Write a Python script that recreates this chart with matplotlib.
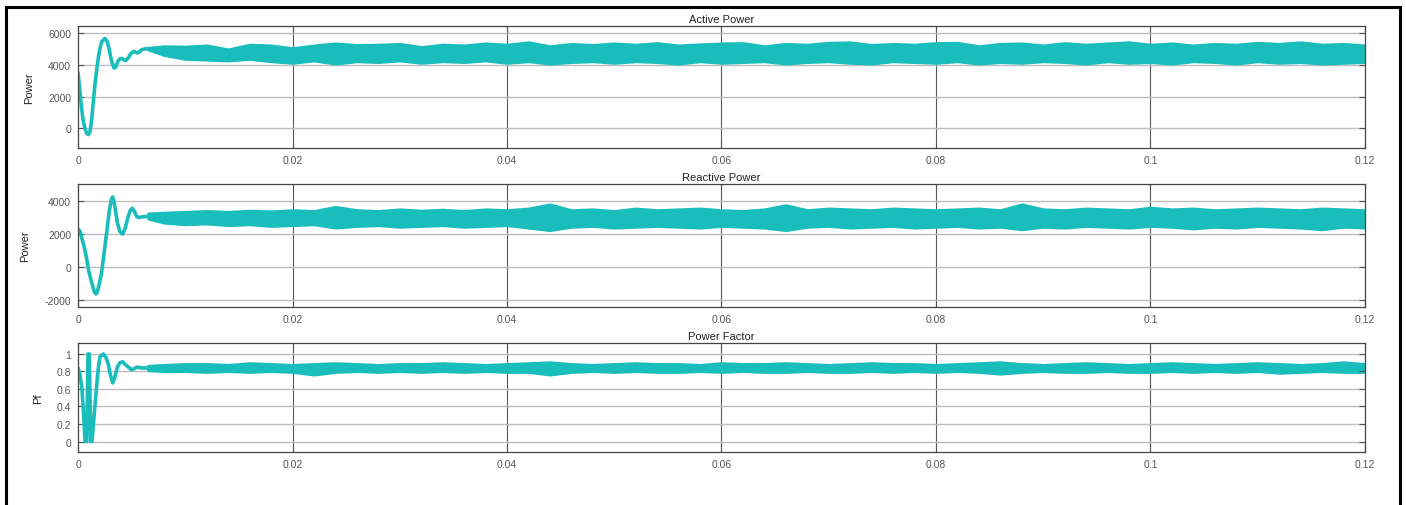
import matplotlib
matplotlib.use("Agg")
import matplotlib.pyplot as plt
from matplotlib.patches import Rectangle

plt.rcParams['font.family'] = ['Liberation Sans', 'DejaVu Sans']

# ---- data ----
x_ticks = [0, 0.02, 0.04, 0.06, 0.08, 0.1, 0.12]
x_labels = ["0", "0.02", "0.04", "0.06", "0.08", "0.1", "0.12"]

# start-up transients (thick line)
p_t = [0, 0.00017, 0.00034, 0.0005, 0.00065, 0.0008, 0.00096, 0.0011, 0.00125,
       0.0014, 0.0016, 0.0018, 0.002, 0.0022, 0.0025, 0.0027, 0.0029, 0.0031,
       0.00335, 0.0035, 0.0037, 0.0039, 0.0041, 0.0043, 0.00447, 0.0047, 0.0049,
       0.0052, 0.0055, 0.0057, 0.0059, 0.0062, 0.0065]
p_v = [3500, 2400, 1190, 400, 0, -330, -400, -250, 400,
       1500, 2900, 4000, 4900, 5450, 5670, 5500, 5000, 4300,
       3800, 3850, 4200, 4380, 4400, 4300, 4280, 4450, 4700,
       4850, 4750, 4800, 4940, 5000, 5030]

q_t = [0, 0.0002, 0.00034, 0.0006, 0.00081, 0.001, 0.00127, 0.0015, 0.00168,
       0.0018, 0.002, 0.0022, 0.0024, 0.00267, 0.0029, 0.0031, 0.00323, 0.0034,
       0.00366, 0.0039, 0.00416, 0.0044, 0.00469, 0.0049, 0.00506, 0.0053,
       0.00547, 0.0057, 0.0059, 0.0065]
q_v = [2280, 2150, 1780, 1150, 480, -250, -920, -1450, -1620,
       -1500, -950, -320, 700, 2080, 3300, 4050, 4220, 3800,
       2680, 2150, 1980, 2350, 3080, 3450, 3540, 3300,
       3040, 2980, 3020, 3050]

pf_t = [0, 0.00015, 0.00034, 0.0005, 0.00065, 0.00081, 0.00093, 0.00105, 0.00118,
        0.0013, 0.0015, 0.00174, 0.0019, 0.00205, 0.00236, 0.0026, 0.00283, 0.003,
        0.00323, 0.0034, 0.00366, 0.0039, 0.00416, 0.0044, 0.00469, 0.005, 0.0052,
        0.00547, 0.006, 0.0065]
pf_v = [0.84, 0.78, 0.64, 0.35, 0.0, 0.0, 1.0, 1.0, 0.0,
        0.0, 0.3, 0.64, 0.85, 0.97, 1.0, 0.96, 0.88, 0.77,
        0.67, 0.72, 0.85, 0.9, 0.91, 0.88, 0.85, 0.82, 0.83,
        0.85, 0.84, 0.84]

# steady-state ripple band (upper / lower envelope)
band_t = [0.0065, 0.008, 0.010, 0.012, 0.014, 0.016, 0.018, 0.020, 0.022, 0.024,
          0.026, 0.028, 0.030, 0.032, 0.034, 0.036, 0.038, 0.040, 0.042, 0.044,
          0.046, 0.048, 0.050, 0.052, 0.054, 0.056, 0.058, 0.060, 0.062, 0.064,
          0.066, 0.068, 0.070, 0.072, 0.074, 0.076, 0.078, 0.080, 0.082, 0.084,
          0.086, 0.088, 0.090, 0.092, 0.094, 0.096, 0.098, 0.100, 0.102, 0.104,
          0.106, 0.108, 0.110, 0.112, 0.114, 0.116, 0.118, 0.120]

p_hi = [5100, 5200, 5180, 5250, 5000, 5300, 5250, 5080, 5250, 5380,
        5280, 5300, 5350, 5150, 5300, 5250, 5380, 5300, 5450, 5200,
        5350, 5280, 5380, 5300, 5400, 5250, 5320, 5380, 5400, 5200,
        5350, 5300, 5420, 5450, 5280, 5350, 5300, 5400, 5420, 5200,
        5350, 5380, 5250, 5400, 5300, 5380, 5450, 5300, 5380, 5250,
        5350, 5300, 5420, 5350, 5450, 5300, 5350, 5250]
p_lo = [4950, 4600, 4350, 4300, 4250, 4350, 4200, 4100, 4250, 4050,
        4200, 4150, 4250, 4100, 4200, 4150, 4250, 4100, 4200, 4050,
        4150, 4200, 4100, 4200, 4150, 4050, 4200, 4100, 4150, 4200,
        4050, 4150, 4200, 4100, 4050, 4200, 4150, 4100, 4200, 4050,
        4150, 4100, 4200, 4150, 4050, 4200, 4100, 4150, 4050, 4200,
        4150, 4050, 4200, 4100, 4150, 4050, 4100, 4150]

q_hi = [3250, 3300, 3350, 3400, 3350, 3420, 3380, 3450, 3400, 3650,
        3450, 3400, 3500, 3420, 3480, 3400, 3500, 3450, 3550, 3800,
        3450, 3500, 3400, 3550, 3450, 3500, 3550, 3450, 3400, 3500,
        3750, 3450, 3550, 3500, 3450, 3550, 3500, 3450, 3500, 3550,
        3450, 3800, 3500, 3450, 3550, 3500, 3450, 3600, 3500, 3550,
        3450, 3500, 3550, 3500, 3450, 3550, 3500, 3450]
q_lo = [2900, 2650, 2550, 2600, 2500, 2550, 2450, 2500, 2550, 2350,
        2450, 2500, 2400, 2450, 2500, 2400, 2450, 2500, 2350, 2200,
        2400, 2450, 2350, 2400, 2450, 2400, 2350, 2450, 2400, 2350,
        2200, 2400, 2450, 2350, 2400, 2450, 2350, 2400, 2450, 2350,
        2400, 2250, 2400, 2350, 2450, 2400, 2350, 2450, 2400, 2300,
        2400, 2350, 2450, 2400, 2350, 2250, 2400, 2350]

pf_hi = [0.87, 0.88, 0.89, 0.89, 0.88, 0.90, 0.89, 0.88, 0.89, 0.90,
         0.89, 0.88, 0.89, 0.89, 0.90, 0.89, 0.88, 0.89, 0.90, 0.91,
         0.89, 0.88, 0.89, 0.90, 0.89, 0.89, 0.88, 0.90, 0.89, 0.89,
         0.90, 0.89, 0.88, 0.89, 0.90, 0.89, 0.89, 0.88, 0.89, 0.90,
         0.91, 0.89, 0.88, 0.89, 0.90, 0.89, 0.88, 0.89, 0.90, 0.89,
         0.88, 0.89, 0.90, 0.89, 0.88, 0.89, 0.91, 0.89]
pf_lo = [0.81, 0.80, 0.80, 0.79, 0.80, 0.79, 0.80, 0.79, 0.76, 0.79,
         0.80, 0.79, 0.80, 0.79, 0.80, 0.79, 0.80, 0.79, 0.79, 0.76,
         0.79, 0.80, 0.79, 0.80, 0.79, 0.79, 0.80, 0.79, 0.80, 0.79,
         0.79, 0.80, 0.79, 0.79, 0.80, 0.79, 0.80, 0.79, 0.80, 0.79,
         0.77, 0.79, 0.80, 0.79, 0.79, 0.80, 0.79, 0.79, 0.80, 0.79,
         0.80, 0.79, 0.80, 0.78, 0.79, 0.80, 0.79, 0.79]

# ---- figure ----
teal = '#19bdbb'
fig = plt.figure(figsize=(14.06, 5.06), dpi=100)

panels = [
    # rect, title, ylabel, yticks, ylim, transient t, transient v, hi, lo, label x
    ([0.0555, 0.7055, 0.9153, 0.2411], "Active Power", "Power",
     [0, 2000, 4000, 6000], (-1250, 6450), p_t, p_v, p_hi, p_lo, -0.034),
    ([0.0555, 0.3913, 0.9153, 0.2431], "Reactive Power", "Power",
     [-2000, 0, 2000, 4000], (-2400, 5000), q_t, q_v, q_hi, q_lo, -0.037),
    ([0.0555, 0.1047, 0.9153, 0.2154], "Power Factor", "Pf",
     [0, 0.2, 0.4, 0.6, 0.8, 1], (-0.12, 1.125), pf_t, pf_v, pf_hi, pf_lo, -0.027),
]

for rect, title, ylab, yt, ylim, tt, tv, hi, lo, labx in panels:
    ax = fig.add_axes(rect)
    ax.plot(tt, tv, color=teal, linewidth=2.6, solid_capstyle='round',
            solid_joinstyle='round')
    ax.fill_between(band_t, lo, hi, color=teal, linewidth=1.5, edgecolor=teal)
    ax.set_xlim(0, 0.12)
    ax.set_ylim(*ylim)
    ax.set_xticks(x_ticks)
    ax.set_xticklabels(x_labels)
    ax.set_yticks(yt)
    ax.set_yticklabels([f"{v:g}" for v in yt])
    # matlab-like grid: vertical darker, horizontal light
    for xv in x_ticks[1:-1]:
        ax.axvline(xv, color='#5a5a5a', linewidth=0.8, zorder=0)
    for yv in yt:
        ax.axhline(yv, color='#bdbdbd', linewidth=1.0, zorder=0)
    ax.tick_params(direction='in', length=4, width=0.8, colors='#555555',
                   labelsize=7.5, top=True, right=True, pad=5)
    for s in ax.spines.values():
        s.set_color('#444444')
        s.set_linewidth(0.9)
    ax.set_title(title, fontsize=8, pad=3, color='#222222')
    ax.set_ylabel(ylab, fontsize=8, color='#222222')
    ax.yaxis.set_label_coords(labx, 0.5)

# outer black frame
fig.add_artist(Rectangle((0.0043, -0.02), 0.9915, 1.004, transform=fig.transFigure,
                         fill=False, edgecolor='black', linewidth=2.2, clip_on=False))

fig.savefig("out.png", dpi=100)
